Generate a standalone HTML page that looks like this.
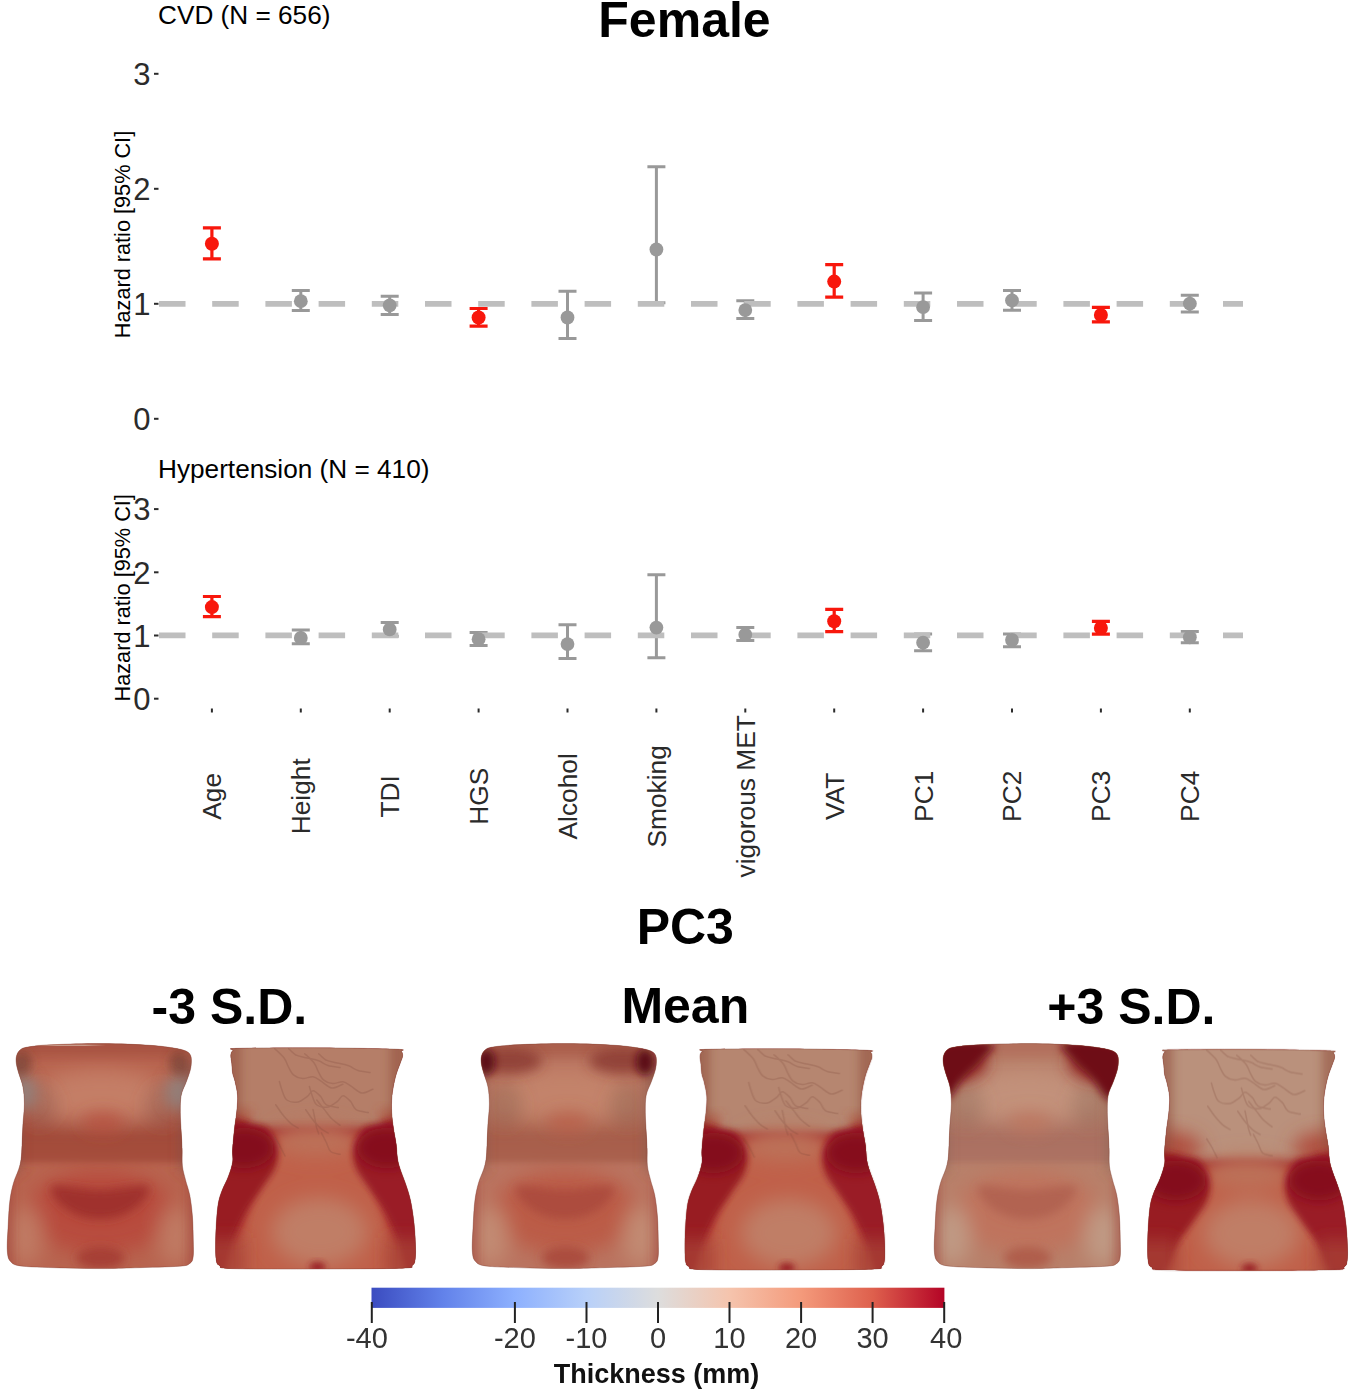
<!DOCTYPE html>
<html><head><meta charset="utf-8"><style>
html,body{margin:0;padding:0;background:#fff;width:1350px;height:1391px;overflow:hidden}
svg{display:block}
text{font-family:"Liberation Sans",sans-serif}
</style></head><body>
<svg width="1350" height="1391" viewBox="0 0 1350 1391">
<rect width="1350" height="1391" fill="#fff"/>
<path d="M291.8 290.6H309.8M300.8 290.6V310.6M291.8 310.6H309.8" stroke="#999999" stroke-width="3" fill="none"/>
<path d="M380.7 296.3H398.7M389.7 296.3V314.5M380.7 314.5H398.7" stroke="#999999" stroke-width="3" fill="none"/>
<path d="M558.5 291.3H576.5M567.5 291.3V338.4M558.5 338.4H576.5" stroke="#999999" stroke-width="3" fill="none"/>
<path d="M647.4 166.8H665.4M656.4 166.8V302.8M647.4 302.8H665.4" stroke="#999999" stroke-width="3" fill="none"/>
<path d="M736.3 300.7H754.3M745.3 300.7V318.4M736.3 318.4H754.3" stroke="#999999" stroke-width="3" fill="none"/>
<path d="M914.1 293.0H932.1M923.1 293.0V320.6M914.1 320.6H932.1" stroke="#999999" stroke-width="3" fill="none"/>
<path d="M1003.0 290.5H1021.0M1012.0 290.5V310.2M1003.0 310.2H1021.0" stroke="#999999" stroke-width="3" fill="none"/>
<path d="M1180.8 295.3H1198.8M1189.8 295.3V311.9M1180.8 311.9H1198.8" stroke="#999999" stroke-width="3" fill="none"/>
<line x1="159" y1="303.9" x2="1243" y2="303.9" stroke="#bebebe" stroke-width="5.7" stroke-dasharray="26.5 26.7"/>
<circle cx="300.8" cy="301.2" r="6.9" fill="#999999"/>
<circle cx="389.7" cy="305.3" r="6.9" fill="#999999"/>
<circle cx="567.5" cy="317.5" r="6.9" fill="#999999"/>
<circle cx="656.4" cy="249.5" r="6.9" fill="#999999"/>
<circle cx="745.3" cy="310.1" r="6.9" fill="#999999"/>
<circle cx="923.1" cy="307.2" r="6.9" fill="#999999"/>
<circle cx="1012.0" cy="300.4" r="6.9" fill="#999999"/>
<circle cx="1189.8" cy="303.6" r="6.9" fill="#999999"/>
<path d="M202.9 227.9H220.9M211.9 227.9V258.8M202.9 258.8H220.9" stroke="#f8170c" stroke-width="3.2" fill="none"/>
<circle cx="211.9" cy="243.7" r="7" fill="#f8170c"/>
<path d="M469.6 308.5H487.6M478.6 308.5V326.1M469.6 326.1H487.6" stroke="#f8170c" stroke-width="3.2" fill="none"/>
<circle cx="478.6" cy="317.5" r="7" fill="#f8170c"/>
<path d="M825.2 264.6H843.2M834.2 264.6V297.1M825.2 297.1H843.2" stroke="#f8170c" stroke-width="3.2" fill="none"/>
<circle cx="834.2" cy="281.6" r="7" fill="#f8170c"/>
<path d="M1091.9 307.3H1109.9M1100.9 307.3V321.8M1091.9 321.8H1109.9" stroke="#f8170c" stroke-width="3.2" fill="none"/>
<circle cx="1100.9" cy="315.0" r="7" fill="#f8170c"/>
<line x1="154" y1="73.8" x2="158.5" y2="73.8" stroke="#2b2b2b" stroke-width="2"/>
<text x="150.5" y="85.0" font-size="31" fill="#2b2b2b" text-anchor="end">3</text>
<line x1="154" y1="188.8" x2="158.5" y2="188.8" stroke="#2b2b2b" stroke-width="2"/>
<text x="150.5" y="200.0" font-size="31" fill="#2b2b2b" text-anchor="end">2</text>
<line x1="154" y1="303.8" x2="158.5" y2="303.8" stroke="#2b2b2b" stroke-width="2"/>
<text x="150.5" y="315.0" font-size="31" fill="#2b2b2b" text-anchor="end">1</text>
<line x1="154" y1="418.8" x2="158.5" y2="418.8" stroke="#2b2b2b" stroke-width="2"/>
<text x="150.5" y="430.0" font-size="31" fill="#2b2b2b" text-anchor="end">0</text>
<text x="158" y="24.4" font-size="26.2" fill="#000">CVD (N = 656)</text>
<text transform="translate(130.3 234.5) rotate(-90)" x="0" y="0" font-size="21.7" fill="#000" text-anchor="middle">Hazard ratio [95% CI]</text>
<path d="M291.8 630.0H309.8M300.8 630.0V643.8M291.8 643.8H309.8" stroke="#999999" stroke-width="3" fill="none"/>
<path d="M380.7 622.5H398.7M389.7 622.5V636.3M380.7 636.3H398.7" stroke="#999999" stroke-width="3" fill="none"/>
<path d="M469.6 632.4H487.6M478.6 632.4V645.4M469.6 645.4H487.6" stroke="#999999" stroke-width="3" fill="none"/>
<path d="M558.5 624.7H576.5M567.5 624.7V658.4M558.5 658.4H576.5" stroke="#999999" stroke-width="3" fill="none"/>
<path d="M647.4 574.7H665.4M656.4 574.7V657.7M647.4 657.7H665.4" stroke="#999999" stroke-width="3" fill="none"/>
<path d="M736.3 627.6H754.3M745.3 627.6V640.6M736.3 640.6H754.3" stroke="#999999" stroke-width="3" fill="none"/>
<path d="M914.1 634.1H932.1M923.1 634.1V650.7M914.1 650.7H932.1" stroke="#999999" stroke-width="3" fill="none"/>
<path d="M1003.0 634.1H1021.0M1012.0 634.1V646.7M1003.0 646.7H1021.0" stroke="#999999" stroke-width="3" fill="none"/>
<path d="M1180.8 631.5H1198.8M1189.8 631.5V642.7M1180.8 642.7H1198.8" stroke="#999999" stroke-width="3" fill="none"/>
<line x1="159" y1="635.3" x2="1243" y2="635.3" stroke="#bebebe" stroke-width="5.7" stroke-dasharray="26.5 26.7"/>
<circle cx="300.8" cy="637.9" r="6.9" fill="#999999"/>
<circle cx="389.7" cy="629.4" r="6.9" fill="#999999"/>
<circle cx="478.6" cy="639.2" r="6.9" fill="#999999"/>
<circle cx="567.5" cy="644.1" r="6.9" fill="#999999"/>
<circle cx="656.4" cy="627.6" r="6.9" fill="#999999"/>
<circle cx="745.3" cy="634.7" r="6.9" fill="#999999"/>
<circle cx="923.1" cy="642.7" r="6.9" fill="#999999"/>
<circle cx="1012.0" cy="640.0" r="6.9" fill="#999999"/>
<circle cx="1189.8" cy="637.3" r="6.9" fill="#999999"/>
<path d="M202.9 596.5H220.9M211.9 596.5V616.7M202.9 616.7H220.9" stroke="#f8170c" stroke-width="3.2" fill="none"/>
<circle cx="211.9" cy="607.1" r="7" fill="#f8170c"/>
<path d="M825.2 609.3H843.2M834.2 609.3V631.6M825.2 631.6H843.2" stroke="#f8170c" stroke-width="3.2" fill="none"/>
<circle cx="834.2" cy="621.2" r="7" fill="#f8170c"/>
<path d="M1091.9 621.3H1109.9M1100.9 621.3V634.1M1091.9 634.1H1109.9" stroke="#f8170c" stroke-width="3.2" fill="none"/>
<circle cx="1100.9" cy="628.0" r="7" fill="#f8170c"/>
<line x1="154" y1="509.1" x2="158.5" y2="509.1" stroke="#2b2b2b" stroke-width="2"/>
<text x="150.5" y="520.3" font-size="31" fill="#2b2b2b" text-anchor="end">3</text>
<line x1="154" y1="572.3" x2="158.5" y2="572.3" stroke="#2b2b2b" stroke-width="2"/>
<text x="150.5" y="583.5" font-size="31" fill="#2b2b2b" text-anchor="end">2</text>
<line x1="154" y1="635.5" x2="158.5" y2="635.5" stroke="#2b2b2b" stroke-width="2"/>
<text x="150.5" y="646.7" font-size="31" fill="#2b2b2b" text-anchor="end">1</text>
<line x1="154" y1="698.7" x2="158.5" y2="698.7" stroke="#2b2b2b" stroke-width="2"/>
<text x="150.5" y="709.9" font-size="31" fill="#2b2b2b" text-anchor="end">0</text>
<text x="158" y="477.9" font-size="26.2" fill="#000">Hypertension (N = 410)</text>
<text transform="translate(130.3 597.8) rotate(-90)" x="0" y="0" font-size="21.7" fill="#000" text-anchor="middle">Hazard ratio [95% CI]</text>
<line x1="211.9" y1="708.5" x2="211.9" y2="712.5" stroke="#2b2b2b" stroke-width="2"/>
<text transform="translate(221.3 796.3) rotate(-90)" font-size="26.3" fill="#2a2a2a" text-anchor="middle">Age</text>
<line x1="300.8" y1="708.5" x2="300.8" y2="712.5" stroke="#2b2b2b" stroke-width="2"/>
<text transform="translate(310.2 796.3) rotate(-90)" font-size="26.3" fill="#2a2a2a" text-anchor="middle">Height</text>
<line x1="389.7" y1="708.5" x2="389.7" y2="712.5" stroke="#2b2b2b" stroke-width="2"/>
<text transform="translate(399.1 796.3) rotate(-90)" font-size="26.3" fill="#2a2a2a" text-anchor="middle">TDI</text>
<line x1="478.6" y1="708.5" x2="478.6" y2="712.5" stroke="#2b2b2b" stroke-width="2"/>
<text transform="translate(488.0 796.3) rotate(-90)" font-size="26.3" fill="#2a2a2a" text-anchor="middle">HGS</text>
<line x1="567.5" y1="708.5" x2="567.5" y2="712.5" stroke="#2b2b2b" stroke-width="2"/>
<text transform="translate(576.9 796.3) rotate(-90)" font-size="26.3" fill="#2a2a2a" text-anchor="middle">Alcohol</text>
<line x1="656.4" y1="708.5" x2="656.4" y2="712.5" stroke="#2b2b2b" stroke-width="2"/>
<text transform="translate(665.8 796.3) rotate(-90)" font-size="26.3" fill="#2a2a2a" text-anchor="middle">Smoking</text>
<line x1="745.3" y1="708.5" x2="745.3" y2="712.5" stroke="#2b2b2b" stroke-width="2"/>
<text transform="translate(754.7 796.3) rotate(-90)" font-size="26.3" fill="#2a2a2a" text-anchor="middle">vigorous MET</text>
<line x1="834.2" y1="708.5" x2="834.2" y2="712.5" stroke="#2b2b2b" stroke-width="2"/>
<text transform="translate(843.6 796.3) rotate(-90)" font-size="26.3" fill="#2a2a2a" text-anchor="middle">VAT</text>
<line x1="923.1" y1="708.5" x2="923.1" y2="712.5" stroke="#2b2b2b" stroke-width="2"/>
<text transform="translate(932.5 796.3) rotate(-90)" font-size="26.3" fill="#2a2a2a" text-anchor="middle">PC1</text>
<line x1="1012.0" y1="708.5" x2="1012.0" y2="712.5" stroke="#2b2b2b" stroke-width="2"/>
<text transform="translate(1021.4 796.3) rotate(-90)" font-size="26.3" fill="#2a2a2a" text-anchor="middle">PC2</text>
<line x1="1100.9" y1="708.5" x2="1100.9" y2="712.5" stroke="#2b2b2b" stroke-width="2"/>
<text transform="translate(1110.3 796.3) rotate(-90)" font-size="26.3" fill="#2a2a2a" text-anchor="middle">PC3</text>
<line x1="1189.8" y1="708.5" x2="1189.8" y2="712.5" stroke="#2b2b2b" stroke-width="2"/>
<text transform="translate(1199.2 796.3) rotate(-90)" font-size="26.3" fill="#2a2a2a" text-anchor="middle">PC4</text>
<text x="684.5" y="36.6" font-size="50" font-weight="bold" text-anchor="middle" fill="#000">Female</text>
<text x="685.3" y="944" font-size="50" font-weight="bold" text-anchor="middle" fill="#000">PC3</text>
<text x="229.4" y="1024.3" font-size="50" font-weight="bold" text-anchor="middle" fill="#000">-3 S.D.</text>
<text x="685.3" y="1022.7" font-size="50" font-weight="bold" text-anchor="middle" fill="#000">Mean</text>
<text x="1131.4" y="1024.3" font-size="50" font-weight="bold" text-anchor="middle" fill="#000">+3 S.D.</text>
<defs>
<filter id="bl" x="-20%" y="-20%" width="140%" height="140%"><feGaussianBlur stdDeviation="0.7"/></filter>
<filter id="b3" x="-50%" y="-50%" width="200%" height="200%"><feGaussianBlur stdDeviation="3"/></filter>
<filter id="b4" x="-50%" y="-50%" width="200%" height="200%"><feGaussianBlur stdDeviation="4"/></filter>
<filter id="b5" x="-50%" y="-50%" width="200%" height="200%"><feGaussianBlur stdDeviation="5"/></filter>
<filter id="b6" x="-50%" y="-50%" width="200%" height="200%"><feGaussianBlur stdDeviation="6"/></filter>
<filter id="b7" x="-50%" y="-50%" width="200%" height="200%"><feGaussianBlur stdDeviation="7"/></filter>
<filter id="b8" x="-50%" y="-50%" width="200%" height="200%"><feGaussianBlur stdDeviation="8"/></filter>
<filter id="b9" x="-50%" y="-50%" width="200%" height="200%"><feGaussianBlur stdDeviation="9"/></filter>
<filter id="b10" x="-50%" y="-50%" width="200%" height="200%"><feGaussianBlur stdDeviation="10"/></filter>
<clipPath id="c0"><path d="M481.3 1057.0C481.8 1054.8 482.6 1052.2 484.5 1050.5C486.4 1048.8 487.0 1048.0 493.0 1047.0C499.0 1046.0 508.1 1045.2 520.6 1044.6C533.1 1044.0 552.3 1043.5 568.0 1043.6C583.7 1043.7 603.0 1044.5 615.0 1045.3C627.0 1046.1 633.9 1047.3 640.0 1048.3C646.1 1049.3 648.8 1050.1 651.4 1051.3C654.0 1052.5 654.8 1053.7 655.6 1055.5C656.4 1057.3 656.5 1059.6 656.4 1062.0C656.3 1064.4 656.1 1066.7 655.3 1070.0C654.5 1073.3 652.9 1077.4 651.4 1081.6C649.9 1085.8 647.2 1090.1 646.2 1095.3C645.2 1100.5 645.3 1106.5 645.3 1112.6C645.3 1118.6 645.9 1125.6 646.2 1131.6C646.5 1137.6 646.9 1143.1 647.1 1148.8C647.3 1154.5 646.8 1160.8 647.4 1166.0C648.0 1171.2 649.3 1174.9 650.5 1179.8C651.7 1184.7 653.6 1189.3 654.8 1195.3C655.9 1201.3 656.8 1208.2 657.4 1216.0C658.0 1223.8 658.2 1235.0 658.3 1241.9C658.4 1248.8 658.7 1253.6 658.1 1257.2C657.5 1260.8 657.1 1261.9 654.8 1263.4C652.5 1264.9 653.6 1265.5 644.5 1266.2C635.4 1266.9 612.8 1267.4 600.0 1267.8C587.2 1268.2 579.7 1268.6 568.0 1268.6C556.3 1268.6 543.4 1268.4 530.0 1268.0C516.6 1267.6 496.9 1267.2 487.9 1266.2C478.9 1265.2 478.4 1264.3 475.8 1261.7C473.2 1259.1 472.7 1256.7 472.3 1250.5C471.9 1244.3 472.8 1233.0 473.2 1224.7C473.6 1216.4 474.0 1207.4 474.9 1200.5C475.8 1193.6 476.9 1188.5 478.4 1183.3C479.8 1178.1 482.3 1173.5 483.6 1169.5C484.9 1165.5 485.5 1163.1 486.1 1159.1C486.7 1155.1 486.7 1151.0 487.0 1145.3C487.3 1139.6 487.5 1131.6 487.9 1124.7C488.3 1117.8 489.4 1110.3 489.4 1104.0C489.4 1097.7 488.9 1091.9 487.9 1086.7C486.9 1081.5 484.7 1076.7 483.6 1072.9C482.5 1069.1 481.8 1066.7 481.4 1064.0C481.0 1061.3 480.8 1059.2 481.3 1057.0Z"/></clipPath>
<clipPath id="c1"><path d="M230.8 1055.0C231.0 1052.8 231.8 1051.4 233.0 1050.3C234.2 1049.2 223.5 1048.7 238.0 1048.3C252.5 1047.9 293.7 1047.6 320.0 1047.8C346.3 1048.0 382.4 1048.6 396.0 1049.2C409.6 1049.8 400.2 1050.2 401.3 1051.3C402.4 1052.4 402.7 1054.1 402.6 1056.0C402.5 1057.9 401.7 1059.0 400.5 1062.5C399.3 1066.0 396.8 1071.7 395.4 1077.2C394.0 1082.8 392.6 1089.9 392.0 1095.8C391.4 1101.7 391.4 1107.1 391.7 1112.7C392.0 1118.3 392.9 1124.2 393.7 1129.6C394.5 1134.9 395.7 1140.0 396.3 1144.8C396.9 1149.6 396.9 1154.4 397.5 1158.3C398.1 1162.2 398.6 1164.2 400.0 1168.4C401.4 1172.6 403.8 1178.3 405.6 1183.7C407.4 1189.1 409.2 1194.1 410.6 1200.6C412.0 1207.1 413.2 1215.5 414.0 1222.5C414.8 1229.5 415.2 1236.7 415.4 1242.8C415.6 1248.9 415.7 1255.2 415.2 1259.0C414.7 1262.8 414.5 1263.9 412.3 1265.4C410.1 1266.9 417.6 1267.6 402.2 1268.2C386.8 1268.8 348.4 1268.9 320.0 1269.0C291.6 1269.1 248.3 1269.2 231.6 1268.6C214.9 1268.0 222.1 1267.0 219.6 1265.6C217.1 1264.2 217.0 1264.1 216.3 1260.3C215.6 1256.5 215.6 1249.2 215.6 1243.0C215.6 1236.8 215.9 1229.7 216.3 1223.0C216.8 1216.3 217.3 1208.6 218.3 1203.1C219.3 1197.6 220.6 1194.2 222.3 1189.8C224.0 1185.4 226.6 1181.1 228.3 1176.5C230.0 1171.9 231.9 1166.4 232.6 1162.0C233.3 1157.6 232.2 1155.3 232.5 1150.0C232.8 1144.7 233.6 1136.7 234.3 1130.0C235.0 1123.3 236.4 1115.8 236.9 1110.0C237.4 1104.2 237.8 1099.8 237.5 1095.0C237.2 1090.2 235.8 1085.2 235.0 1081.5C234.2 1077.8 233.0 1075.6 232.5 1072.6C232.0 1069.6 232.1 1066.6 231.8 1063.7C231.5 1060.8 230.6 1057.2 230.8 1055.0Z"/></clipPath>
<clipPath id="c2"><path d="M481.3 1057.0C481.8 1054.8 482.6 1052.2 484.5 1050.5C486.4 1048.8 487.0 1048.0 493.0 1047.0C499.0 1046.0 508.1 1045.2 520.6 1044.6C533.1 1044.0 552.3 1043.5 568.0 1043.6C583.7 1043.7 603.0 1044.5 615.0 1045.3C627.0 1046.1 633.9 1047.3 640.0 1048.3C646.1 1049.3 648.8 1050.1 651.4 1051.3C654.0 1052.5 654.8 1053.7 655.6 1055.5C656.4 1057.3 656.5 1059.6 656.4 1062.0C656.3 1064.4 656.1 1066.7 655.3 1070.0C654.5 1073.3 652.9 1077.4 651.4 1081.6C649.9 1085.8 647.2 1090.1 646.2 1095.3C645.2 1100.5 645.3 1106.5 645.3 1112.6C645.3 1118.6 645.9 1125.6 646.2 1131.6C646.5 1137.6 646.9 1143.1 647.1 1148.8C647.3 1154.5 646.8 1160.8 647.4 1166.0C648.0 1171.2 649.3 1174.9 650.5 1179.8C651.7 1184.7 653.6 1189.3 654.8 1195.3C655.9 1201.3 656.8 1208.2 657.4 1216.0C658.0 1223.8 658.2 1235.0 658.3 1241.9C658.4 1248.8 658.7 1253.6 658.1 1257.2C657.5 1260.8 657.1 1261.9 654.8 1263.4C652.5 1264.9 653.6 1265.5 644.5 1266.2C635.4 1266.9 612.8 1267.4 600.0 1267.8C587.2 1268.2 579.7 1268.6 568.0 1268.6C556.3 1268.6 543.4 1268.4 530.0 1268.0C516.6 1267.6 496.9 1267.2 487.9 1266.2C478.9 1265.2 478.4 1264.3 475.8 1261.7C473.2 1259.1 472.7 1256.7 472.3 1250.5C471.9 1244.3 472.8 1233.0 473.2 1224.7C473.6 1216.4 474.0 1207.4 474.9 1200.5C475.8 1193.6 476.9 1188.5 478.4 1183.3C479.8 1178.1 482.3 1173.5 483.6 1169.5C484.9 1165.5 485.5 1163.1 486.1 1159.1C486.7 1155.1 486.7 1151.0 487.0 1145.3C487.3 1139.6 487.5 1131.6 487.9 1124.7C488.3 1117.8 489.4 1110.3 489.4 1104.0C489.4 1097.7 488.9 1091.9 487.9 1086.7C486.9 1081.5 484.7 1076.7 483.6 1072.9C482.5 1069.1 481.8 1066.7 481.4 1064.0C481.0 1061.3 480.8 1059.2 481.3 1057.0Z"/></clipPath>
<clipPath id="c3"><path d="M230.8 1055.0C231.0 1052.8 231.8 1051.4 233.0 1050.3C234.2 1049.2 223.5 1048.7 238.0 1048.3C252.5 1047.9 293.7 1047.6 320.0 1047.8C346.3 1048.0 382.4 1048.6 396.0 1049.2C409.6 1049.8 400.2 1050.2 401.3 1051.3C402.4 1052.4 402.7 1054.1 402.6 1056.0C402.5 1057.9 401.7 1059.0 400.5 1062.5C399.3 1066.0 396.8 1071.7 395.4 1077.2C394.0 1082.8 392.6 1089.9 392.0 1095.8C391.4 1101.7 391.4 1107.1 391.7 1112.7C392.0 1118.3 392.9 1124.2 393.7 1129.6C394.5 1134.9 395.7 1140.0 396.3 1144.8C396.9 1149.6 396.9 1154.4 397.5 1158.3C398.1 1162.2 398.6 1164.2 400.0 1168.4C401.4 1172.6 403.8 1178.3 405.6 1183.7C407.4 1189.1 409.2 1194.1 410.6 1200.6C412.0 1207.1 413.2 1215.5 414.0 1222.5C414.8 1229.5 415.2 1236.7 415.4 1242.8C415.6 1248.9 415.7 1255.2 415.2 1259.0C414.7 1262.8 414.5 1263.9 412.3 1265.4C410.1 1266.9 417.6 1267.6 402.2 1268.2C386.8 1268.8 348.4 1268.9 320.0 1269.0C291.6 1269.1 248.3 1269.2 231.6 1268.6C214.9 1268.0 222.1 1267.0 219.6 1265.6C217.1 1264.2 217.0 1264.1 216.3 1260.3C215.6 1256.5 215.6 1249.2 215.6 1243.0C215.6 1236.8 215.9 1229.7 216.3 1223.0C216.8 1216.3 217.3 1208.6 218.3 1203.1C219.3 1197.6 220.6 1194.2 222.3 1189.8C224.0 1185.4 226.6 1181.1 228.3 1176.5C230.0 1171.9 231.9 1166.4 232.6 1162.0C233.3 1157.6 232.2 1155.3 232.5 1150.0C232.8 1144.7 233.6 1136.7 234.3 1130.0C235.0 1123.3 236.4 1115.8 236.9 1110.0C237.4 1104.2 237.8 1099.8 237.5 1095.0C237.2 1090.2 235.8 1085.2 235.0 1081.5C234.2 1077.8 233.0 1075.6 232.5 1072.6C232.0 1069.6 232.1 1066.6 231.8 1063.7C231.5 1060.8 230.6 1057.2 230.8 1055.0Z"/></clipPath>
<clipPath id="c4"><path d="M481.3 1057.0C481.8 1054.8 482.6 1052.2 484.5 1050.5C486.4 1048.8 487.0 1048.0 493.0 1047.0C499.0 1046.0 508.1 1045.2 520.6 1044.6C533.1 1044.0 552.3 1043.5 568.0 1043.6C583.7 1043.7 603.0 1044.5 615.0 1045.3C627.0 1046.1 633.9 1047.3 640.0 1048.3C646.1 1049.3 648.8 1050.1 651.4 1051.3C654.0 1052.5 654.8 1053.7 655.6 1055.5C656.4 1057.3 656.5 1059.6 656.4 1062.0C656.3 1064.4 656.1 1066.7 655.3 1070.0C654.5 1073.3 652.9 1077.4 651.4 1081.6C649.9 1085.8 647.2 1090.1 646.2 1095.3C645.2 1100.5 645.3 1106.5 645.3 1112.6C645.3 1118.6 645.9 1125.6 646.2 1131.6C646.5 1137.6 646.9 1143.1 647.1 1148.8C647.3 1154.5 646.8 1160.8 647.4 1166.0C648.0 1171.2 649.3 1174.9 650.5 1179.8C651.7 1184.7 653.6 1189.3 654.8 1195.3C655.9 1201.3 656.8 1208.2 657.4 1216.0C658.0 1223.8 658.2 1235.0 658.3 1241.9C658.4 1248.8 658.7 1253.6 658.1 1257.2C657.5 1260.8 657.1 1261.9 654.8 1263.4C652.5 1264.9 653.6 1265.5 644.5 1266.2C635.4 1266.9 612.8 1267.4 600.0 1267.8C587.2 1268.2 579.7 1268.6 568.0 1268.6C556.3 1268.6 543.4 1268.4 530.0 1268.0C516.6 1267.6 496.9 1267.2 487.9 1266.2C478.9 1265.2 478.4 1264.3 475.8 1261.7C473.2 1259.1 472.7 1256.7 472.3 1250.5C471.9 1244.3 472.8 1233.0 473.2 1224.7C473.6 1216.4 474.0 1207.4 474.9 1200.5C475.8 1193.6 476.9 1188.5 478.4 1183.3C479.8 1178.1 482.3 1173.5 483.6 1169.5C484.9 1165.5 485.5 1163.1 486.1 1159.1C486.7 1155.1 486.7 1151.0 487.0 1145.3C487.3 1139.6 487.5 1131.6 487.9 1124.7C488.3 1117.8 489.4 1110.3 489.4 1104.0C489.4 1097.7 488.9 1091.9 487.9 1086.7C486.9 1081.5 484.7 1076.7 483.6 1072.9C482.5 1069.1 481.8 1066.7 481.4 1064.0C481.0 1061.3 480.8 1059.2 481.3 1057.0Z"/></clipPath>
<clipPath id="c5"><path d="M230.8 1055.0C231.0 1052.8 231.8 1051.4 233.0 1050.3C234.2 1049.2 223.5 1048.7 238.0 1048.3C252.5 1047.9 293.7 1047.6 320.0 1047.8C346.3 1048.0 382.4 1048.6 396.0 1049.2C409.6 1049.8 400.2 1050.2 401.3 1051.3C402.4 1052.4 402.7 1054.1 402.6 1056.0C402.5 1057.9 401.7 1059.0 400.5 1062.5C399.3 1066.0 396.8 1071.7 395.4 1077.2C394.0 1082.8 392.6 1089.9 392.0 1095.8C391.4 1101.7 391.4 1107.1 391.7 1112.7C392.0 1118.3 392.9 1124.2 393.7 1129.6C394.5 1134.9 395.7 1140.0 396.3 1144.8C396.9 1149.6 396.9 1154.4 397.5 1158.3C398.1 1162.2 398.6 1164.2 400.0 1168.4C401.4 1172.6 403.8 1178.3 405.6 1183.7C407.4 1189.1 409.2 1194.1 410.6 1200.6C412.0 1207.1 413.2 1215.5 414.0 1222.5C414.8 1229.5 415.2 1236.7 415.4 1242.8C415.6 1248.9 415.7 1255.2 415.2 1259.0C414.7 1262.8 414.5 1263.9 412.3 1265.4C410.1 1266.9 417.6 1267.6 402.2 1268.2C386.8 1268.8 348.4 1268.9 320.0 1269.0C291.6 1269.1 248.3 1269.2 231.6 1268.6C214.9 1268.0 222.1 1267.0 219.6 1265.6C217.1 1264.2 217.0 1264.1 216.3 1260.3C215.6 1256.5 215.6 1249.2 215.6 1243.0C215.6 1236.8 215.9 1229.7 216.3 1223.0C216.8 1216.3 217.3 1208.6 218.3 1203.1C219.3 1197.6 220.6 1194.2 222.3 1189.8C224.0 1185.4 226.6 1181.1 228.3 1176.5C230.0 1171.9 231.9 1166.4 232.6 1162.0C233.3 1157.6 232.2 1155.3 232.5 1150.0C232.8 1144.7 233.6 1136.7 234.3 1130.0C235.0 1123.3 236.4 1115.8 236.9 1110.0C237.4 1104.2 237.8 1099.8 237.5 1095.0C237.2 1090.2 235.8 1085.2 235.0 1081.5C234.2 1077.8 233.0 1075.6 232.5 1072.6C232.0 1069.6 232.1 1066.6 231.8 1063.7C231.5 1060.8 230.6 1057.2 230.8 1055.0Z"/></clipPath>
</defs>
<g transform="translate(-465 0)"><g clip-path="url(#c0)"><rect x="460.0" y="1030.0" width="210.0" height="250.0" fill="#b8644f" opacity="1"/><g filter="url(#b10)"><ellipse cx="565.5" cy="1097.0" rx="72.0" ry="28.0" fill="#c47e66" opacity="1"/><rect x="460.0" y="1122.0" width="210.0" height="28.0" fill="#a24b3b" opacity="1"/><ellipse cx="565.5" cy="1212.0" rx="72.0" ry="42.0" fill="#b84b3c" opacity="1"/><ellipse cx="490.0" cy="1236.0" rx="18.0" ry="30.0" fill="#c07a64" opacity="1"/><ellipse cx="641.0" cy="1236.0" rx="18.0" ry="30.0" fill="#c07a64" opacity="1"/></g><g filter="url(#b3)"><rect x="460.0" y="1135.0" width="210.0" height="27.0" fill="#a24b3b" opacity="0.85"/></g><g filter="url(#b6)"><rect x="460.0" y="1030.0" width="210.0" height="27.0" fill="#a5503f" opacity="0.8"/></g><g filter="url(#b5)"><path d="M518.0 1186.0C524.7 1183.7 549.3 1190.0 565.0 1190.0C580.7 1190.0 605.3 1183.7 612.0 1186.0C618.7 1188.3 609.5 1199.0 605.0 1204.0C600.5 1209.0 591.7 1213.5 585.0 1216.0C578.3 1218.5 571.7 1219.0 565.0 1219.0C558.3 1219.0 551.7 1218.5 545.0 1216.0C538.3 1213.5 529.5 1209.0 525.0 1204.0C520.5 1199.0 511.3 1188.3 518.0 1186.0Z" fill="#9e302a" opacity="0.95"/><ellipse cx="565.5" cy="1258.0" rx="24.0" ry="11.0" fill="#a33a31" opacity="0.8"/></g><g filter="url(#b8)"><ellipse cx="568.0" cy="1122.0" rx="22.0" ry="10.0" fill="#b84b3c" opacity="0.7"/><ellipse cx="505.0" cy="1105.0" rx="18.0" ry="22.0" fill="#7e5048" opacity="0.3"/><ellipse cx="627.0" cy="1105.0" rx="18.0" ry="22.0" fill="#7e5048" opacity="0.3"/></g><g filter="url(#b6)"><rect x="455.0" y="1062.0" width="31.0" height="110.0" fill="#7e5048" opacity="0.55"/><rect x="645.0" y="1062.0" width="35.0" height="110.0" fill="#7e5048" opacity="0.55"/></g><g filter="url(#b4)"><rect x="455.0" y="1176.0" width="23.0" height="96.0" fill="#9a3a30" opacity="0.45"/><rect x="653.0" y="1176.0" width="27.0" height="96.0" fill="#9a3a30" opacity="0.45"/></g><g filter="url(#b7)"><ellipse cx="489.0" cy="1092.0" rx="13.0" ry="18.0" fill="#8d8682" opacity="0.8"/><ellipse cx="643.0" cy="1092.0" rx="13.0" ry="18.0" fill="#8d8682" opacity="0.8"/></g><g filter="url(#b5)"><ellipse cx="487.0" cy="1063.0" rx="10.0" ry="12.0" fill="#6a3a30" opacity="0.55"/><ellipse cx="644.0" cy="1063.0" rx="10.0" ry="12.0" fill="#6a3a30" opacity="0.55"/></g></g><path d="M481.3 1057.0C481.8 1054.8 482.6 1052.2 484.5 1050.5C486.4 1048.8 487.0 1048.0 493.0 1047.0C499.0 1046.0 508.1 1045.2 520.6 1044.6C533.1 1044.0 552.3 1043.5 568.0 1043.6C583.7 1043.7 603.0 1044.5 615.0 1045.3C627.0 1046.1 633.9 1047.3 640.0 1048.3C646.1 1049.3 648.8 1050.1 651.4 1051.3C654.0 1052.5 654.8 1053.7 655.6 1055.5C656.4 1057.3 656.5 1059.6 656.4 1062.0C656.3 1064.4 656.1 1066.7 655.3 1070.0C654.5 1073.3 652.9 1077.4 651.4 1081.6C649.9 1085.8 647.2 1090.1 646.2 1095.3C645.2 1100.5 645.3 1106.5 645.3 1112.6C645.3 1118.6 645.9 1125.6 646.2 1131.6C646.5 1137.6 646.9 1143.1 647.1 1148.8C647.3 1154.5 646.8 1160.8 647.4 1166.0C648.0 1171.2 649.3 1174.9 650.5 1179.8C651.7 1184.7 653.6 1189.3 654.8 1195.3C655.9 1201.3 656.8 1208.2 657.4 1216.0C658.0 1223.8 658.2 1235.0 658.3 1241.9C658.4 1248.8 658.7 1253.6 658.1 1257.2C657.5 1260.8 657.1 1261.9 654.8 1263.4C652.5 1264.9 653.6 1265.5 644.5 1266.2C635.4 1266.9 612.8 1267.4 600.0 1267.8C587.2 1268.2 579.7 1268.6 568.0 1268.6C556.3 1268.6 543.4 1268.4 530.0 1268.0C516.6 1267.6 496.9 1267.2 487.9 1266.2C478.9 1265.2 478.4 1264.3 475.8 1261.7C473.2 1259.1 472.7 1256.7 472.3 1250.5C471.9 1244.3 472.8 1233.0 473.2 1224.7C473.6 1216.4 474.0 1207.4 474.9 1200.5C475.8 1193.6 476.9 1188.5 478.4 1183.3C479.8 1178.1 482.3 1173.5 483.6 1169.5C484.9 1165.5 485.5 1163.1 486.1 1159.1C486.7 1155.1 486.7 1151.0 487.0 1145.3C487.3 1139.6 487.5 1131.6 487.9 1124.7C488.3 1117.8 489.4 1110.3 489.4 1104.0C489.4 1097.7 488.9 1091.9 487.9 1086.7C486.9 1081.5 484.7 1076.7 483.6 1072.9C482.5 1069.1 481.8 1066.7 481.4 1064.0C481.0 1061.3 480.8 1059.2 481.3 1057.0Z" fill="none" stroke="#7a3a2e" stroke-width="0.7" opacity="0.5"/></g>
<g transform="translate(0 0)"><g clip-path="url(#c1)"><rect x="200.0" y="1030.0" width="230.0" height="250.0" fill="#a02a2c" opacity="1"/><g filter="url(#b5)"><rect x="200.0" y="1030.0" width="230.0" height="98.0" fill="#b57e68" opacity="1"/></g><g filter="url(#b6)"><rect x="200.0" y="1110.0" width="50.0" height="18.0" fill="#ae4c3c" opacity="0.8"/><rect x="381.0" y="1110.0" width="49.0" height="18.0" fill="#ae4c3c" opacity="0.8"/></g><g filter="url(#b7)"><path d="M266.0 1136.0C283.0 1132.7 348.0 1132.7 365.0 1136.0C382.0 1139.3 366.0 1148.5 368.0 1156.0C370.0 1163.5 372.5 1167.8 377.0 1181.0C381.5 1194.2 389.8 1219.3 395.0 1235.0C400.2 1250.7 436.7 1268.3 408.0 1275.0C379.3 1281.7 251.7 1281.7 223.0 1275.0C194.3 1268.3 230.8 1250.7 236.0 1235.0C241.2 1219.3 249.5 1194.2 254.0 1181.0C258.5 1167.8 261.0 1163.5 263.0 1156.0C265.0 1148.5 249.0 1139.3 266.0 1136.0Z" fill="#b8473a" opacity="1"/></g><g filter="url(#b4)"><path d="M270.0 1140.0C285.7 1137.0 345.3 1137.0 361.0 1140.0C376.7 1143.0 362.2 1150.8 364.0 1158.0C365.8 1165.2 368.0 1170.2 372.0 1183.0C376.0 1195.8 383.3 1219.7 388.0 1235.0C392.7 1250.3 426.2 1268.3 400.0 1275.0C373.8 1281.7 257.2 1281.7 231.0 1275.0C204.8 1268.3 238.3 1250.3 243.0 1235.0C247.7 1219.7 255.0 1195.8 259.0 1183.0C263.0 1170.2 265.2 1165.2 267.0 1158.0C268.8 1150.8 254.3 1143.0 270.0 1140.0Z" fill="#c0604a" opacity="1"/></g><g filter="url(#b10)"><ellipse cx="319.5" cy="1232.0" rx="48.0" ry="34.0" fill="#c07e66" opacity="1"/><ellipse cx="315.5" cy="1140.0" rx="44.0" ry="16.0" fill="#bb735b" opacity="0.9"/></g><g filter="url(#b3)"><path d="M205.0 1126.0C213.8 1101.2 247.2 1124.7 258.0 1126.0C268.8 1127.3 266.8 1130.0 270.0 1134.0C273.2 1138.0 276.2 1144.3 277.0 1150.0C277.8 1155.7 277.5 1161.7 275.0 1168.0C272.5 1174.3 266.8 1180.8 262.0 1188.0C257.2 1195.2 251.0 1202.2 246.0 1211.0C241.0 1219.8 236.0 1230.3 232.0 1241.0C228.0 1251.7 226.5 1269.3 222.0 1275.0C217.5 1280.7 207.8 1299.8 205.0 1275.0C202.2 1250.2 196.2 1150.8 205.0 1126.0Z" fill="#981a24" opacity="1"/><path d="M426.0 1126.0C417.2 1101.2 383.8 1124.7 373.0 1126.0C362.2 1127.3 364.2 1130.0 361.0 1134.0C357.8 1138.0 354.8 1144.3 354.0 1150.0C353.2 1155.7 353.5 1161.7 356.0 1168.0C358.5 1174.3 364.2 1180.8 369.0 1188.0C373.8 1195.2 380.0 1202.2 385.0 1211.0C390.0 1219.8 395.0 1230.3 399.0 1241.0C403.0 1251.7 404.5 1269.3 409.0 1275.0C413.5 1280.7 423.2 1299.8 426.0 1275.0C428.8 1250.2 434.8 1150.8 426.0 1126.0Z" fill="#9a1b25" opacity="1"/></g><g filter="url(#b6)"><ellipse cx="244.0" cy="1148.0" rx="30.0" ry="20.0" fill="#840e1d" opacity="1"/><ellipse cx="387.0" cy="1148.0" rx="30.0" ry="20.0" fill="#860f1e" opacity="1"/></g><g filter="url(#b8)"><rect x="200.0" y="1238.0" width="45.0" height="42.0" fill="#a83d35" opacity="0.8"/><rect x="386.0" y="1238.0" width="44.0" height="42.0" fill="#a83d35" opacity="0.8"/></g><g filter="url(#b4)"><rect x="200.0" y="1040.0" width="41.0" height="78.0" fill="#8f4a3a" opacity="0.5"/><rect x="390.0" y="1040.0" width="40.0" height="78.0" fill="#8f4a3a" opacity="0.5"/></g><g filter="url(#b3)"><ellipse cx="317.5" cy="1267.0" rx="8.0" ry="5.0" fill="#9a2426" opacity="1"/></g><g filter="url(#bl)" fill="none" stroke="#7e4a3c" stroke-width="1.5" opacity="0.24" stroke-linecap="round"><path d="M274.7 1048.7C276.3 1050.2 281.8 1054.9 284.1 1058.0C286.4 1061.1 287.1 1064.6 288.7 1067.4C290.2 1070.2 291.1 1072.9 293.4 1074.8C295.7 1076.7 299.4 1078.3 302.7 1078.6C306.0 1078.9 309.9 1076.2 313.0 1076.7C316.1 1077.2 318.3 1079.5 321.4 1081.4C324.5 1083.3 328.1 1087.5 331.7 1088.0C335.3 1088.5 341.0 1084.8 342.9 1084.2"/><path d="M288.7 1048.7C289.9 1049.8 293.1 1053.7 296.2 1055.2C299.3 1056.8 303.6 1057.1 307.4 1058.0C311.1 1058.9 315.3 1059.5 318.7 1060.8C322.1 1062.0 324.4 1064.4 328.0 1065.5C331.6 1066.6 338.1 1067.1 340.1 1067.4"/><path d="M279.4 1081.4C279.9 1083.0 280.9 1087.6 282.2 1090.7C283.4 1093.8 284.2 1098.1 286.9 1100.0C289.5 1101.9 294.7 1102.6 298.1 1102.0C301.5 1101.4 304.9 1098.2 307.4 1096.3C309.9 1094.4 310.8 1090.7 313.0 1090.7C315.2 1090.7 318.3 1094.0 320.5 1096.3C322.7 1098.6 323.1 1102.8 326.1 1104.7C329.1 1106.6 336.3 1107.1 338.3 1107.6"/><path d="M275.7 1104.7C276.8 1106.2 279.7 1110.9 282.2 1114.0C284.7 1117.1 288.0 1121.1 290.7 1123.4C293.4 1125.7 296.9 1127.2 298.1 1128.0"/><path d="M313.0 1109.4C313.3 1111.0 314.3 1115.7 314.9 1118.8C315.5 1121.9 316.1 1125.5 316.7 1128.0C317.3 1130.5 318.4 1132.8 318.7 1133.7"/><path d="M316.7 1100.0C317.9 1101.6 321.7 1106.3 324.2 1109.4C326.7 1112.5 329.0 1116.2 331.7 1118.8C334.4 1121.4 338.7 1124.2 340.1 1125.3"/><path d="M321.4 1132.8C322.2 1134.3 324.6 1138.9 326.1 1142.0C327.7 1145.1 328.4 1149.5 330.7 1151.5C333.0 1153.5 338.5 1153.8 340.1 1154.3"/><path d="M274.7 1137.5C275.5 1138.8 277.7 1141.9 279.4 1145.0C281.1 1148.1 284.1 1154.2 285.0 1156.0"/><path d="M304.7 1053.7C306.3 1055.2 311.8 1059.9 314.1 1063.0C316.4 1066.1 317.1 1069.6 318.7 1072.4C320.2 1075.2 321.1 1077.9 323.4 1079.8C325.7 1081.7 329.4 1083.3 332.7 1083.6C336.0 1083.9 339.9 1081.2 343.0 1081.7C346.1 1082.2 348.3 1084.5 351.4 1086.4C354.5 1088.3 358.1 1092.5 361.7 1093.0C365.3 1093.5 371.0 1089.8 372.9 1089.2"/><path d="M318.7 1053.7C319.9 1054.8 323.1 1058.7 326.2 1060.2C329.3 1061.8 333.6 1062.1 337.4 1063.0C341.1 1063.9 345.3 1064.5 348.7 1065.8C352.1 1067.0 354.4 1069.4 358.0 1070.5C361.6 1071.6 368.1 1072.1 370.1 1072.4"/><path d="M309.4 1086.4C309.9 1088.0 310.9 1092.6 312.2 1095.7C313.4 1098.8 314.2 1103.1 316.9 1105.0C319.5 1106.9 324.7 1107.6 328.1 1107.0C331.5 1106.4 334.9 1103.2 337.4 1101.3C339.9 1099.4 340.8 1095.7 343.0 1095.7C345.2 1095.7 348.3 1099.0 350.5 1101.3C352.7 1103.6 353.1 1107.8 356.1 1109.7C359.1 1111.6 366.3 1112.1 368.3 1112.6"/><path d="M305.7 1109.7C306.8 1111.2 309.7 1115.9 312.2 1119.0C314.7 1122.1 318.0 1126.1 320.7 1128.4C323.4 1130.7 326.9 1132.2 328.1 1133.0"/></g></g><path d="M230.8 1055.0C231.0 1052.8 231.8 1051.4 233.0 1050.3C234.2 1049.2 223.5 1048.7 238.0 1048.3C252.5 1047.9 293.7 1047.6 320.0 1047.8C346.3 1048.0 382.4 1048.6 396.0 1049.2C409.6 1049.8 400.2 1050.2 401.3 1051.3C402.4 1052.4 402.7 1054.1 402.6 1056.0C402.5 1057.9 401.7 1059.0 400.5 1062.5C399.3 1066.0 396.8 1071.7 395.4 1077.2C394.0 1082.8 392.6 1089.9 392.0 1095.8C391.4 1101.7 391.4 1107.1 391.7 1112.7C392.0 1118.3 392.9 1124.2 393.7 1129.6C394.5 1134.9 395.7 1140.0 396.3 1144.8C396.9 1149.6 396.9 1154.4 397.5 1158.3C398.1 1162.2 398.6 1164.2 400.0 1168.4C401.4 1172.6 403.8 1178.3 405.6 1183.7C407.4 1189.1 409.2 1194.1 410.6 1200.6C412.0 1207.1 413.2 1215.5 414.0 1222.5C414.8 1229.5 415.2 1236.7 415.4 1242.8C415.6 1248.9 415.7 1255.2 415.2 1259.0C414.7 1262.8 414.5 1263.9 412.3 1265.4C410.1 1266.9 417.6 1267.6 402.2 1268.2C386.8 1268.8 348.4 1268.9 320.0 1269.0C291.6 1269.1 248.3 1269.2 231.6 1268.6C214.9 1268.0 222.1 1267.0 219.6 1265.6C217.1 1264.2 217.0 1264.1 216.3 1260.3C215.6 1256.5 215.6 1249.2 215.6 1243.0C215.6 1236.8 215.9 1229.7 216.3 1223.0C216.8 1216.3 217.3 1208.6 218.3 1203.1C219.3 1197.6 220.6 1194.2 222.3 1189.8C224.0 1185.4 226.6 1181.1 228.3 1176.5C230.0 1171.9 231.9 1166.4 232.6 1162.0C233.3 1157.6 232.2 1155.3 232.5 1150.0C232.8 1144.7 233.6 1136.7 234.3 1130.0C235.0 1123.3 236.4 1115.8 236.9 1110.0C237.4 1104.2 237.8 1099.8 237.5 1095.0C237.2 1090.2 235.8 1085.2 235.0 1081.5C234.2 1077.8 233.0 1075.6 232.5 1072.6C232.0 1069.6 232.1 1066.6 231.8 1063.7C231.5 1060.8 230.6 1057.2 230.8 1055.0Z" fill="none" stroke="#7a3a2e" stroke-width="0.7" opacity="0.5"/></g>
<g transform="translate(0 0)"><g clip-path="url(#c2)"><rect x="460.0" y="1030.0" width="210.0" height="250.0" fill="#ba7460" opacity="1"/><g filter="url(#b10)"><ellipse cx="565.5" cy="1097.0" rx="72.0" ry="28.0" fill="#c3836a" opacity="1"/><rect x="460.0" y="1122.0" width="210.0" height="28.0" fill="#a75e4b" opacity="1"/><ellipse cx="565.5" cy="1212.0" rx="72.0" ry="42.0" fill="#bb5c47" opacity="1"/><ellipse cx="490.0" cy="1236.0" rx="18.0" ry="30.0" fill="#c28b73" opacity="1"/><ellipse cx="641.0" cy="1236.0" rx="18.0" ry="30.0" fill="#c28b73" opacity="1"/></g><g filter="url(#b3)"><rect x="460.0" y="1135.0" width="210.0" height="27.0" fill="#a75e4b" opacity="0.85"/></g><g filter="url(#b6)"><rect x="460.0" y="1030.0" width="210.0" height="27.0" fill="#a85a47" opacity="0.8"/></g><g filter="url(#b5)"><path d="M518.0 1186.0C524.7 1183.7 549.3 1190.0 565.0 1190.0C580.7 1190.0 605.3 1183.7 612.0 1186.0C618.7 1188.3 609.5 1199.0 605.0 1204.0C600.5 1209.0 591.7 1213.5 585.0 1216.0C578.3 1218.5 571.7 1219.0 565.0 1219.0C558.3 1219.0 551.7 1218.5 545.0 1216.0C538.3 1213.5 529.5 1209.0 525.0 1204.0C520.5 1199.0 511.3 1188.3 518.0 1186.0Z" fill="#a9493b" opacity="0.8"/><ellipse cx="565.5" cy="1258.0" rx="24.0" ry="11.0" fill="#a8443a" opacity="0.8"/></g><g filter="url(#b8)"><ellipse cx="568.0" cy="1122.0" rx="22.0" ry="10.0" fill="#bb5c47" opacity="0.7"/><ellipse cx="505.0" cy="1105.0" rx="18.0" ry="22.0" fill="#7f5a4a" opacity="0.3"/><ellipse cx="627.0" cy="1105.0" rx="18.0" ry="22.0" fill="#7f5a4a" opacity="0.3"/></g><g filter="url(#b6)"><rect x="455.0" y="1062.0" width="31.0" height="110.0" fill="#7f5a4a" opacity="0.55"/><rect x="645.0" y="1062.0" width="35.0" height="110.0" fill="#7f5a4a" opacity="0.55"/></g><g filter="url(#b4)"><rect x="455.0" y="1176.0" width="23.0" height="96.0" fill="#9a3a30" opacity="0.45"/><rect x="653.0" y="1176.0" width="27.0" height="96.0" fill="#9a3a30" opacity="0.45"/></g><g filter="url(#b6)"><ellipse cx="508.0" cy="1061.0" rx="34.0" ry="13.0" fill="#8a3a30" opacity="0.8"/><ellipse cx="623.0" cy="1061.0" rx="34.0" ry="13.0" fill="#8a3a30" opacity="0.8"/></g><g filter="url(#b4)"><ellipse cx="486.0" cy="1062.0" rx="9.0" ry="13.0" fill="#5c0c16" opacity="1"/><ellipse cx="645.0" cy="1062.0" rx="9.0" ry="13.0" fill="#5c0c16" opacity="1"/></g></g><path d="M481.3 1057.0C481.8 1054.8 482.6 1052.2 484.5 1050.5C486.4 1048.8 487.0 1048.0 493.0 1047.0C499.0 1046.0 508.1 1045.2 520.6 1044.6C533.1 1044.0 552.3 1043.5 568.0 1043.6C583.7 1043.7 603.0 1044.5 615.0 1045.3C627.0 1046.1 633.9 1047.3 640.0 1048.3C646.1 1049.3 648.8 1050.1 651.4 1051.3C654.0 1052.5 654.8 1053.7 655.6 1055.5C656.4 1057.3 656.5 1059.6 656.4 1062.0C656.3 1064.4 656.1 1066.7 655.3 1070.0C654.5 1073.3 652.9 1077.4 651.4 1081.6C649.9 1085.8 647.2 1090.1 646.2 1095.3C645.2 1100.5 645.3 1106.5 645.3 1112.6C645.3 1118.6 645.9 1125.6 646.2 1131.6C646.5 1137.6 646.9 1143.1 647.1 1148.8C647.3 1154.5 646.8 1160.8 647.4 1166.0C648.0 1171.2 649.3 1174.9 650.5 1179.8C651.7 1184.7 653.6 1189.3 654.8 1195.3C655.9 1201.3 656.8 1208.2 657.4 1216.0C658.0 1223.8 658.2 1235.0 658.3 1241.9C658.4 1248.8 658.7 1253.6 658.1 1257.2C657.5 1260.8 657.1 1261.9 654.8 1263.4C652.5 1264.9 653.6 1265.5 644.5 1266.2C635.4 1266.9 612.8 1267.4 600.0 1267.8C587.2 1268.2 579.7 1268.6 568.0 1268.6C556.3 1268.6 543.4 1268.4 530.0 1268.0C516.6 1267.6 496.9 1267.2 487.9 1266.2C478.9 1265.2 478.4 1264.3 475.8 1261.7C473.2 1259.1 472.7 1256.7 472.3 1250.5C471.9 1244.3 472.8 1233.0 473.2 1224.7C473.6 1216.4 474.0 1207.4 474.9 1200.5C475.8 1193.6 476.9 1188.5 478.4 1183.3C479.8 1178.1 482.3 1173.5 483.6 1169.5C484.9 1165.5 485.5 1163.1 486.1 1159.1C486.7 1155.1 486.7 1151.0 487.0 1145.3C487.3 1139.6 487.5 1131.6 487.9 1124.7C488.3 1117.8 489.4 1110.3 489.4 1104.0C489.4 1097.7 488.9 1091.9 487.9 1086.7C486.9 1081.5 484.7 1076.7 483.6 1072.9C482.5 1069.1 481.8 1066.7 481.4 1064.0C481.0 1061.3 480.8 1059.2 481.3 1057.0Z" fill="none" stroke="#7a3a2e" stroke-width="0.7" opacity="0.5"/></g>
<g transform="translate(469.3 1)"><g clip-path="url(#c3)"><rect x="200.0" y="1030.0" width="230.0" height="250.0" fill="#a02a2c" opacity="1"/><g filter="url(#b5)"><rect x="200.0" y="1030.0" width="230.0" height="102.0" fill="#b68670" opacity="1"/></g><g filter="url(#b6)"><rect x="200.0" y="1114.0" width="50.0" height="18.0" fill="#ae4c3c" opacity="0.8"/><rect x="381.0" y="1114.0" width="49.0" height="18.0" fill="#ae4c3c" opacity="0.8"/></g><g filter="url(#b7)"><path d="M266.0 1140.0C283.0 1136.7 348.0 1136.7 365.0 1140.0C382.0 1143.3 366.0 1152.5 368.0 1160.0C370.0 1167.5 372.5 1172.5 377.0 1185.0C381.5 1197.5 389.8 1220.0 395.0 1235.0C400.2 1250.0 436.7 1268.3 408.0 1275.0C379.3 1281.7 251.7 1281.7 223.0 1275.0C194.3 1268.3 230.8 1250.0 236.0 1235.0C241.2 1220.0 249.5 1197.5 254.0 1185.0C258.5 1172.5 261.0 1167.5 263.0 1160.0C265.0 1152.5 249.0 1143.3 266.0 1140.0Z" fill="#b8473a" opacity="1"/></g><g filter="url(#b4)"><path d="M270.0 1144.0C285.7 1141.0 345.3 1141.0 361.0 1144.0C376.7 1147.0 362.2 1154.8 364.0 1162.0C365.8 1169.2 368.0 1174.8 372.0 1187.0C376.0 1199.2 383.3 1220.3 388.0 1235.0C392.7 1249.7 426.2 1268.3 400.0 1275.0C373.8 1281.7 257.2 1281.7 231.0 1275.0C204.8 1268.3 238.3 1249.7 243.0 1235.0C247.7 1220.3 255.0 1199.2 259.0 1187.0C263.0 1174.8 265.2 1169.2 267.0 1162.0C268.8 1154.8 254.3 1147.0 270.0 1144.0Z" fill="#c0604a" opacity="1"/></g><g filter="url(#b10)"><ellipse cx="319.5" cy="1232.0" rx="48.0" ry="34.0" fill="#c07e66" opacity="1"/><ellipse cx="315.5" cy="1144.0" rx="44.0" ry="16.0" fill="#bb735b" opacity="0.9"/></g><g filter="url(#b3)"><path d="M205.0 1130.0C213.8 1105.8 247.2 1128.7 258.0 1130.0C268.8 1131.3 266.8 1134.0 270.0 1138.0C273.2 1142.0 276.2 1148.3 277.0 1154.0C277.8 1159.7 277.5 1165.7 275.0 1172.0C272.5 1178.3 266.8 1184.8 262.0 1192.0C257.2 1199.2 251.0 1206.2 246.0 1215.0C241.0 1223.8 236.0 1235.0 232.0 1245.0C228.0 1255.0 226.5 1270.0 222.0 1275.0C217.5 1280.0 207.8 1299.2 205.0 1275.0C202.2 1250.8 196.2 1154.2 205.0 1130.0Z" fill="#981a24" opacity="1"/><path d="M426.0 1130.0C417.2 1105.8 383.8 1128.7 373.0 1130.0C362.2 1131.3 364.2 1134.0 361.0 1138.0C357.8 1142.0 354.8 1148.3 354.0 1154.0C353.2 1159.7 353.5 1165.7 356.0 1172.0C358.5 1178.3 364.2 1184.8 369.0 1192.0C373.8 1199.2 380.0 1206.2 385.0 1215.0C390.0 1223.8 395.0 1235.0 399.0 1245.0C403.0 1255.0 404.5 1270.0 409.0 1275.0C413.5 1280.0 423.2 1299.2 426.0 1275.0C428.8 1250.8 434.8 1154.2 426.0 1130.0Z" fill="#9a1b25" opacity="1"/></g><g filter="url(#b6)"><ellipse cx="244.0" cy="1152.0" rx="30.0" ry="20.0" fill="#840e1d" opacity="1"/><ellipse cx="387.0" cy="1152.0" rx="30.0" ry="20.0" fill="#860f1e" opacity="1"/></g><g filter="url(#b8)"><rect x="200.0" y="1238.0" width="45.0" height="42.0" fill="#a83d35" opacity="0.8"/><rect x="386.0" y="1238.0" width="44.0" height="42.0" fill="#a83d35" opacity="0.8"/></g><g filter="url(#b4)"><rect x="200.0" y="1040.0" width="41.0" height="82.0" fill="#8f4a3a" opacity="0.5"/><rect x="390.0" y="1040.0" width="40.0" height="82.0" fill="#8f4a3a" opacity="0.5"/></g><g filter="url(#b3)"><ellipse cx="317.5" cy="1267.0" rx="8.0" ry="5.0" fill="#9a2426" opacity="1"/></g><g filter="url(#bl)" fill="none" stroke="#7e4a3c" stroke-width="1.5" opacity="0.24" stroke-linecap="round"><path d="M274.7 1048.7C276.3 1050.2 281.8 1054.9 284.1 1058.0C286.4 1061.1 287.1 1064.6 288.7 1067.4C290.2 1070.2 291.1 1072.9 293.4 1074.8C295.7 1076.7 299.4 1078.3 302.7 1078.6C306.0 1078.9 309.9 1076.2 313.0 1076.7C316.1 1077.2 318.3 1079.5 321.4 1081.4C324.5 1083.3 328.1 1087.5 331.7 1088.0C335.3 1088.5 341.0 1084.8 342.9 1084.2"/><path d="M288.7 1048.7C289.9 1049.8 293.1 1053.7 296.2 1055.2C299.3 1056.8 303.6 1057.1 307.4 1058.0C311.1 1058.9 315.3 1059.5 318.7 1060.8C322.1 1062.0 324.4 1064.4 328.0 1065.5C331.6 1066.6 338.1 1067.1 340.1 1067.4"/><path d="M279.4 1081.4C279.9 1083.0 280.9 1087.6 282.2 1090.7C283.4 1093.8 284.2 1098.1 286.9 1100.0C289.5 1101.9 294.7 1102.6 298.1 1102.0C301.5 1101.4 304.9 1098.2 307.4 1096.3C309.9 1094.4 310.8 1090.7 313.0 1090.7C315.2 1090.7 318.3 1094.0 320.5 1096.3C322.7 1098.6 323.1 1102.8 326.1 1104.7C329.1 1106.6 336.3 1107.1 338.3 1107.6"/><path d="M275.7 1104.7C276.8 1106.2 279.7 1110.9 282.2 1114.0C284.7 1117.1 288.0 1121.1 290.7 1123.4C293.4 1125.7 296.9 1127.2 298.1 1128.0"/><path d="M313.0 1109.4C313.3 1111.0 314.3 1115.7 314.9 1118.8C315.5 1121.9 316.1 1125.5 316.7 1128.0C317.3 1130.5 318.4 1132.8 318.7 1133.7"/><path d="M316.7 1100.0C317.9 1101.6 321.7 1106.3 324.2 1109.4C326.7 1112.5 329.0 1116.2 331.7 1118.8C334.4 1121.4 338.7 1124.2 340.1 1125.3"/><path d="M321.4 1132.8C322.2 1134.3 324.6 1138.9 326.1 1142.0C327.7 1145.1 328.4 1149.5 330.7 1151.5C333.0 1153.5 338.5 1153.8 340.1 1154.3"/><path d="M274.7 1137.5C275.5 1138.8 277.7 1141.9 279.4 1145.0C281.1 1148.1 284.1 1154.2 285.0 1156.0"/><path d="M304.7 1053.7C306.3 1055.2 311.8 1059.9 314.1 1063.0C316.4 1066.1 317.1 1069.6 318.7 1072.4C320.2 1075.2 321.1 1077.9 323.4 1079.8C325.7 1081.7 329.4 1083.3 332.7 1083.6C336.0 1083.9 339.9 1081.2 343.0 1081.7C346.1 1082.2 348.3 1084.5 351.4 1086.4C354.5 1088.3 358.1 1092.5 361.7 1093.0C365.3 1093.5 371.0 1089.8 372.9 1089.2"/><path d="M318.7 1053.7C319.9 1054.8 323.1 1058.7 326.2 1060.2C329.3 1061.8 333.6 1062.1 337.4 1063.0C341.1 1063.9 345.3 1064.5 348.7 1065.8C352.1 1067.0 354.4 1069.4 358.0 1070.5C361.6 1071.6 368.1 1072.1 370.1 1072.4"/><path d="M309.4 1086.4C309.9 1088.0 310.9 1092.6 312.2 1095.7C313.4 1098.8 314.2 1103.1 316.9 1105.0C319.5 1106.9 324.7 1107.6 328.1 1107.0C331.5 1106.4 334.9 1103.2 337.4 1101.3C339.9 1099.4 340.8 1095.7 343.0 1095.7C345.2 1095.7 348.3 1099.0 350.5 1101.3C352.7 1103.6 353.1 1107.8 356.1 1109.7C359.1 1111.6 366.3 1112.1 368.3 1112.6"/><path d="M305.7 1109.7C306.8 1111.2 309.7 1115.9 312.2 1119.0C314.7 1122.1 318.0 1126.1 320.7 1128.4C323.4 1130.7 326.9 1132.2 328.1 1133.0"/></g></g><path d="M230.8 1055.0C231.0 1052.8 231.8 1051.4 233.0 1050.3C234.2 1049.2 223.5 1048.7 238.0 1048.3C252.5 1047.9 293.7 1047.6 320.0 1047.8C346.3 1048.0 382.4 1048.6 396.0 1049.2C409.6 1049.8 400.2 1050.2 401.3 1051.3C402.4 1052.4 402.7 1054.1 402.6 1056.0C402.5 1057.9 401.7 1059.0 400.5 1062.5C399.3 1066.0 396.8 1071.7 395.4 1077.2C394.0 1082.8 392.6 1089.9 392.0 1095.8C391.4 1101.7 391.4 1107.1 391.7 1112.7C392.0 1118.3 392.9 1124.2 393.7 1129.6C394.5 1134.9 395.7 1140.0 396.3 1144.8C396.9 1149.6 396.9 1154.4 397.5 1158.3C398.1 1162.2 398.6 1164.2 400.0 1168.4C401.4 1172.6 403.8 1178.3 405.6 1183.7C407.4 1189.1 409.2 1194.1 410.6 1200.6C412.0 1207.1 413.2 1215.5 414.0 1222.5C414.8 1229.5 415.2 1236.7 415.4 1242.8C415.6 1248.9 415.7 1255.2 415.2 1259.0C414.7 1262.8 414.5 1263.9 412.3 1265.4C410.1 1266.9 417.6 1267.6 402.2 1268.2C386.8 1268.8 348.4 1268.9 320.0 1269.0C291.6 1269.1 248.3 1269.2 231.6 1268.6C214.9 1268.0 222.1 1267.0 219.6 1265.6C217.1 1264.2 217.0 1264.1 216.3 1260.3C215.6 1256.5 215.6 1249.2 215.6 1243.0C215.6 1236.8 215.9 1229.7 216.3 1223.0C216.8 1216.3 217.3 1208.6 218.3 1203.1C219.3 1197.6 220.6 1194.2 222.3 1189.8C224.0 1185.4 226.6 1181.1 228.3 1176.5C230.0 1171.9 231.9 1166.4 232.6 1162.0C233.3 1157.6 232.2 1155.3 232.5 1150.0C232.8 1144.7 233.6 1136.7 234.3 1130.0C235.0 1123.3 236.4 1115.8 236.9 1110.0C237.4 1104.2 237.8 1099.8 237.5 1095.0C237.2 1090.2 235.8 1085.2 235.0 1081.5C234.2 1077.8 233.0 1075.6 232.5 1072.6C232.0 1069.6 232.1 1066.6 231.8 1063.7C231.5 1060.8 230.6 1057.2 230.8 1055.0Z" fill="none" stroke="#7a3a2e" stroke-width="0.7" opacity="0.5"/></g>
<g transform="translate(462 0)"><g clip-path="url(#c4)"><rect x="460.0" y="1030.0" width="210.0" height="250.0" fill="#b8806a" opacity="1"/><g filter="url(#b10)"><ellipse cx="565.5" cy="1097.0" rx="72.0" ry="28.0" fill="#c2917a" opacity="1"/><rect x="460.0" y="1122.0" width="210.0" height="28.0" fill="#aa7060" opacity="1"/><ellipse cx="565.5" cy="1212.0" rx="72.0" ry="42.0" fill="#bf735d" opacity="1"/><ellipse cx="490.0" cy="1236.0" rx="18.0" ry="30.0" fill="#c09a84" opacity="1"/><ellipse cx="641.0" cy="1236.0" rx="18.0" ry="30.0" fill="#c09a84" opacity="1"/></g><g filter="url(#b3)"><rect x="460.0" y="1135.0" width="210.0" height="27.0" fill="#aa7060" opacity="0.85"/></g><g filter="url(#b6)"><rect x="460.0" y="1030.0" width="210.0" height="27.0" fill="#b26c58" opacity="0.8"/></g><g filter="url(#b5)"><path d="M518.0 1186.0C524.7 1183.7 549.3 1190.0 565.0 1190.0C580.7 1190.0 605.3 1183.7 612.0 1186.0C618.7 1188.3 609.5 1199.0 605.0 1204.0C600.5 1209.0 591.7 1213.5 585.0 1216.0C578.3 1218.5 571.7 1219.0 565.0 1219.0C558.3 1219.0 551.7 1218.5 545.0 1216.0C538.3 1213.5 529.5 1209.0 525.0 1204.0C520.5 1199.0 511.3 1188.3 518.0 1186.0Z" fill="#ae5e4e" opacity="0.75"/><ellipse cx="565.5" cy="1258.0" rx="24.0" ry="11.0" fill="#ad5646" opacity="0.8"/></g><g filter="url(#b8)"><ellipse cx="568.0" cy="1122.0" rx="22.0" ry="10.0" fill="#bf735d" opacity="0.7"/><ellipse cx="505.0" cy="1105.0" rx="18.0" ry="22.0" fill="#856555" opacity="0.3"/><ellipse cx="627.0" cy="1105.0" rx="18.0" ry="22.0" fill="#856555" opacity="0.3"/></g><g filter="url(#b6)"><rect x="455.0" y="1062.0" width="31.0" height="110.0" fill="#856555" opacity="0.55"/><rect x="645.0" y="1062.0" width="35.0" height="110.0" fill="#856555" opacity="0.55"/></g><g filter="url(#b4)"><rect x="455.0" y="1176.0" width="23.0" height="96.0" fill="#9a3a30" opacity="0.45"/><rect x="653.0" y="1176.0" width="27.0" height="96.0" fill="#9a3a30" opacity="0.45"/></g><g filter="url(#b7)"><ellipse cx="498.0" cy="1062.0" rx="28.0" ry="20.0" fill="#952e2a" opacity="0.85"/><ellipse cx="633.0" cy="1062.0" rx="28.0" ry="20.0" fill="#952e2a" opacity="0.85"/></g><g filter="url(#b4)"><path d="M474.0 1046.0C483.3 1037.0 522.3 1040.7 530.0 1043.0C537.7 1045.3 525.0 1053.8 520.0 1060.0C515.0 1066.2 505.3 1073.8 500.0 1080.0C494.7 1086.2 492.3 1094.2 488.0 1097.0C483.7 1099.8 476.3 1105.5 474.0 1097.0C471.7 1088.5 464.7 1055.0 474.0 1046.0Z" fill="#6e0c18" opacity="1"/><path d="M657.0 1046.0C647.7 1037.0 608.7 1040.7 601.0 1043.0C593.3 1045.3 606.0 1053.8 611.0 1060.0C616.0 1066.2 625.7 1073.8 631.0 1080.0C636.3 1086.2 638.7 1094.2 643.0 1097.0C647.3 1099.8 654.7 1105.5 657.0 1097.0C659.3 1088.5 666.3 1055.0 657.0 1046.0Z" fill="#6e0c18" opacity="1"/></g></g><path d="M481.3 1057.0C481.8 1054.8 482.6 1052.2 484.5 1050.5C486.4 1048.8 487.0 1048.0 493.0 1047.0C499.0 1046.0 508.1 1045.2 520.6 1044.6C533.1 1044.0 552.3 1043.5 568.0 1043.6C583.7 1043.7 603.0 1044.5 615.0 1045.3C627.0 1046.1 633.9 1047.3 640.0 1048.3C646.1 1049.3 648.8 1050.1 651.4 1051.3C654.0 1052.5 654.8 1053.7 655.6 1055.5C656.4 1057.3 656.5 1059.6 656.4 1062.0C656.3 1064.4 656.1 1066.7 655.3 1070.0C654.5 1073.3 652.9 1077.4 651.4 1081.6C649.9 1085.8 647.2 1090.1 646.2 1095.3C645.2 1100.5 645.3 1106.5 645.3 1112.6C645.3 1118.6 645.9 1125.6 646.2 1131.6C646.5 1137.6 646.9 1143.1 647.1 1148.8C647.3 1154.5 646.8 1160.8 647.4 1166.0C648.0 1171.2 649.3 1174.9 650.5 1179.8C651.7 1184.7 653.6 1189.3 654.8 1195.3C655.9 1201.3 656.8 1208.2 657.4 1216.0C658.0 1223.8 658.2 1235.0 658.3 1241.9C658.4 1248.8 658.7 1253.6 658.1 1257.2C657.5 1260.8 657.1 1261.9 654.8 1263.4C652.5 1264.9 653.6 1265.5 644.5 1266.2C635.4 1266.9 612.8 1267.4 600.0 1267.8C587.2 1268.2 579.7 1268.6 568.0 1268.6C556.3 1268.6 543.4 1268.4 530.0 1268.0C516.6 1267.6 496.9 1267.2 487.9 1266.2C478.9 1265.2 478.4 1264.3 475.8 1261.7C473.2 1259.1 472.7 1256.7 472.3 1250.5C471.9 1244.3 472.8 1233.0 473.2 1224.7C473.6 1216.4 474.0 1207.4 474.9 1200.5C475.8 1193.6 476.9 1188.5 478.4 1183.3C479.8 1178.1 482.3 1173.5 483.6 1169.5C484.9 1165.5 485.5 1163.1 486.1 1159.1C486.7 1155.1 486.7 1151.0 487.0 1145.3C487.3 1139.6 487.5 1131.6 487.9 1124.7C488.3 1117.8 489.4 1110.3 489.4 1104.0C489.4 1097.7 488.9 1091.9 487.9 1086.7C486.9 1081.5 484.7 1076.7 483.6 1072.9C482.5 1069.1 481.8 1066.7 481.4 1064.0C481.0 1061.3 480.8 1059.2 481.3 1057.0Z" fill="none" stroke="#7a3a2e" stroke-width="0.7" opacity="0.5"/></g>
<g transform="translate(932 1.5)"><g clip-path="url(#c5)"><rect x="200.0" y="1030.0" width="230.0" height="250.0" fill="#a02a2c" opacity="1"/><g filter="url(#b5)"><rect x="200.0" y="1030.0" width="230.0" height="129.0" fill="#ba917b" opacity="1"/></g><g filter="url(#b9)"><ellipse cx="236.0" cy="1147.0" rx="34.0" ry="17.0" fill="#b0503f" opacity="1"/><ellipse cx="395.0" cy="1147.0" rx="34.0" ry="17.0" fill="#b0503f" opacity="1"/></g><g filter="url(#b7)"><path d="M266.0 1167.0C283.0 1163.7 348.0 1163.7 365.0 1167.0C382.0 1170.3 366.0 1179.5 368.0 1187.0C370.0 1194.5 372.5 1204.0 377.0 1212.0C381.5 1220.0 389.8 1224.5 395.0 1235.0C400.2 1245.5 436.7 1268.3 408.0 1275.0C379.3 1281.7 251.7 1281.7 223.0 1275.0C194.3 1268.3 230.8 1245.5 236.0 1235.0C241.2 1224.5 249.5 1220.0 254.0 1212.0C258.5 1204.0 261.0 1194.5 263.0 1187.0C265.0 1179.5 249.0 1170.3 266.0 1167.0Z" fill="#b8473a" opacity="1"/></g><g filter="url(#b4)"><path d="M270.0 1171.0C285.7 1168.0 345.3 1168.0 361.0 1171.0C376.7 1174.0 362.2 1181.8 364.0 1189.0C365.8 1196.2 368.0 1206.3 372.0 1214.0C376.0 1221.7 383.3 1224.8 388.0 1235.0C392.7 1245.2 426.2 1268.3 400.0 1275.0C373.8 1281.7 257.2 1281.7 231.0 1275.0C204.8 1268.3 238.3 1245.2 243.0 1235.0C247.7 1224.8 255.0 1221.7 259.0 1214.0C263.0 1206.3 265.2 1196.2 267.0 1189.0C268.8 1181.8 254.3 1174.0 270.0 1171.0Z" fill="#c0604a" opacity="1"/></g><g filter="url(#b10)"><ellipse cx="319.5" cy="1232.0" rx="48.0" ry="34.0" fill="#c07e66" opacity="1"/><ellipse cx="315.5" cy="1171.0" rx="44.0" ry="16.0" fill="#bb735b" opacity="0.9"/></g><g filter="url(#b3)"><path d="M205.0 1157.0C213.8 1137.3 247.2 1155.7 258.0 1157.0C268.8 1158.3 266.8 1161.0 270.0 1165.0C273.2 1169.0 276.2 1175.3 277.0 1181.0C277.8 1186.7 277.5 1192.7 275.0 1199.0C272.5 1205.3 266.8 1211.8 262.0 1219.0C257.2 1226.2 251.0 1233.2 246.0 1242.0C241.0 1250.8 236.0 1266.5 232.0 1272.0C228.0 1277.5 226.5 1274.5 222.0 1275.0C217.5 1275.5 207.8 1294.7 205.0 1275.0C202.2 1255.3 196.2 1176.7 205.0 1157.0Z" fill="#981a24" opacity="1"/><path d="M426.0 1157.0C417.2 1137.3 383.8 1155.7 373.0 1157.0C362.2 1158.3 364.2 1161.0 361.0 1165.0C357.8 1169.0 354.8 1175.3 354.0 1181.0C353.2 1186.7 353.5 1192.7 356.0 1199.0C358.5 1205.3 364.2 1211.8 369.0 1219.0C373.8 1226.2 380.0 1233.2 385.0 1242.0C390.0 1250.8 395.0 1266.5 399.0 1272.0C403.0 1277.5 404.5 1274.5 409.0 1275.0C413.5 1275.5 423.2 1294.7 426.0 1275.0C428.8 1255.3 434.8 1176.7 426.0 1157.0Z" fill="#9a1b25" opacity="1"/></g><g filter="url(#b6)"><ellipse cx="244.0" cy="1179.0" rx="30.0" ry="20.0" fill="#840e1d" opacity="1"/><ellipse cx="387.0" cy="1179.0" rx="30.0" ry="20.0" fill="#860f1e" opacity="1"/></g><g filter="url(#b8)"><rect x="200.0" y="1238.0" width="45.0" height="42.0" fill="#a83d35" opacity="0.8"/><rect x="386.0" y="1238.0" width="44.0" height="42.0" fill="#a83d35" opacity="0.8"/></g><g filter="url(#b4)"><rect x="200.0" y="1040.0" width="41.0" height="109.0" fill="#8f4a3a" opacity="0.5"/><rect x="390.0" y="1040.0" width="40.0" height="109.0" fill="#8f4a3a" opacity="0.5"/></g><g filter="url(#b3)"><ellipse cx="317.5" cy="1267.0" rx="8.0" ry="5.0" fill="#9a2426" opacity="1"/></g><g filter="url(#bl)" fill="none" stroke="#7e4a3c" stroke-width="1.5" opacity="0.24" stroke-linecap="round"><path d="M274.7 1048.7C276.3 1050.2 281.8 1054.9 284.1 1058.0C286.4 1061.1 287.1 1064.6 288.7 1067.4C290.2 1070.2 291.1 1072.9 293.4 1074.8C295.7 1076.7 299.4 1078.3 302.7 1078.6C306.0 1078.9 309.9 1076.2 313.0 1076.7C316.1 1077.2 318.3 1079.5 321.4 1081.4C324.5 1083.3 328.1 1087.5 331.7 1088.0C335.3 1088.5 341.0 1084.8 342.9 1084.2"/><path d="M288.7 1048.7C289.9 1049.8 293.1 1053.7 296.2 1055.2C299.3 1056.8 303.6 1057.1 307.4 1058.0C311.1 1058.9 315.3 1059.5 318.7 1060.8C322.1 1062.0 324.4 1064.4 328.0 1065.5C331.6 1066.6 338.1 1067.1 340.1 1067.4"/><path d="M279.4 1081.4C279.9 1083.0 280.9 1087.6 282.2 1090.7C283.4 1093.8 284.2 1098.1 286.9 1100.0C289.5 1101.9 294.7 1102.6 298.1 1102.0C301.5 1101.4 304.9 1098.2 307.4 1096.3C309.9 1094.4 310.8 1090.7 313.0 1090.7C315.2 1090.7 318.3 1094.0 320.5 1096.3C322.7 1098.6 323.1 1102.8 326.1 1104.7C329.1 1106.6 336.3 1107.1 338.3 1107.6"/><path d="M275.7 1104.7C276.8 1106.2 279.7 1110.9 282.2 1114.0C284.7 1117.1 288.0 1121.1 290.7 1123.4C293.4 1125.7 296.9 1127.2 298.1 1128.0"/><path d="M313.0 1109.4C313.3 1111.0 314.3 1115.7 314.9 1118.8C315.5 1121.9 316.1 1125.5 316.7 1128.0C317.3 1130.5 318.4 1132.8 318.7 1133.7"/><path d="M316.7 1100.0C317.9 1101.6 321.7 1106.3 324.2 1109.4C326.7 1112.5 329.0 1116.2 331.7 1118.8C334.4 1121.4 338.7 1124.2 340.1 1125.3"/><path d="M321.4 1132.8C322.2 1134.3 324.6 1138.9 326.1 1142.0C327.7 1145.1 328.4 1149.5 330.7 1151.5C333.0 1153.5 338.5 1153.8 340.1 1154.3"/><path d="M274.7 1137.5C275.5 1138.8 277.7 1141.9 279.4 1145.0C281.1 1148.1 284.1 1154.2 285.0 1156.0"/><path d="M304.7 1053.7C306.3 1055.2 311.8 1059.9 314.1 1063.0C316.4 1066.1 317.1 1069.6 318.7 1072.4C320.2 1075.2 321.1 1077.9 323.4 1079.8C325.7 1081.7 329.4 1083.3 332.7 1083.6C336.0 1083.9 339.9 1081.2 343.0 1081.7C346.1 1082.2 348.3 1084.5 351.4 1086.4C354.5 1088.3 358.1 1092.5 361.7 1093.0C365.3 1093.5 371.0 1089.8 372.9 1089.2"/><path d="M318.7 1053.7C319.9 1054.8 323.1 1058.7 326.2 1060.2C329.3 1061.8 333.6 1062.1 337.4 1063.0C341.1 1063.9 345.3 1064.5 348.7 1065.8C352.1 1067.0 354.4 1069.4 358.0 1070.5C361.6 1071.6 368.1 1072.1 370.1 1072.4"/><path d="M309.4 1086.4C309.9 1088.0 310.9 1092.6 312.2 1095.7C313.4 1098.8 314.2 1103.1 316.9 1105.0C319.5 1106.9 324.7 1107.6 328.1 1107.0C331.5 1106.4 334.9 1103.2 337.4 1101.3C339.9 1099.4 340.8 1095.7 343.0 1095.7C345.2 1095.7 348.3 1099.0 350.5 1101.3C352.7 1103.6 353.1 1107.8 356.1 1109.7C359.1 1111.6 366.3 1112.1 368.3 1112.6"/><path d="M305.7 1109.7C306.8 1111.2 309.7 1115.9 312.2 1119.0C314.7 1122.1 318.0 1126.1 320.7 1128.4C323.4 1130.7 326.9 1132.2 328.1 1133.0"/></g></g><path d="M230.8 1055.0C231.0 1052.8 231.8 1051.4 233.0 1050.3C234.2 1049.2 223.5 1048.7 238.0 1048.3C252.5 1047.9 293.7 1047.6 320.0 1047.8C346.3 1048.0 382.4 1048.6 396.0 1049.2C409.6 1049.8 400.2 1050.2 401.3 1051.3C402.4 1052.4 402.7 1054.1 402.6 1056.0C402.5 1057.9 401.7 1059.0 400.5 1062.5C399.3 1066.0 396.8 1071.7 395.4 1077.2C394.0 1082.8 392.6 1089.9 392.0 1095.8C391.4 1101.7 391.4 1107.1 391.7 1112.7C392.0 1118.3 392.9 1124.2 393.7 1129.6C394.5 1134.9 395.7 1140.0 396.3 1144.8C396.9 1149.6 396.9 1154.4 397.5 1158.3C398.1 1162.2 398.6 1164.2 400.0 1168.4C401.4 1172.6 403.8 1178.3 405.6 1183.7C407.4 1189.1 409.2 1194.1 410.6 1200.6C412.0 1207.1 413.2 1215.5 414.0 1222.5C414.8 1229.5 415.2 1236.7 415.4 1242.8C415.6 1248.9 415.7 1255.2 415.2 1259.0C414.7 1262.8 414.5 1263.9 412.3 1265.4C410.1 1266.9 417.6 1267.6 402.2 1268.2C386.8 1268.8 348.4 1268.9 320.0 1269.0C291.6 1269.1 248.3 1269.2 231.6 1268.6C214.9 1268.0 222.1 1267.0 219.6 1265.6C217.1 1264.2 217.0 1264.1 216.3 1260.3C215.6 1256.5 215.6 1249.2 215.6 1243.0C215.6 1236.8 215.9 1229.7 216.3 1223.0C216.8 1216.3 217.3 1208.6 218.3 1203.1C219.3 1197.6 220.6 1194.2 222.3 1189.8C224.0 1185.4 226.6 1181.1 228.3 1176.5C230.0 1171.9 231.9 1166.4 232.6 1162.0C233.3 1157.6 232.2 1155.3 232.5 1150.0C232.8 1144.7 233.6 1136.7 234.3 1130.0C235.0 1123.3 236.4 1115.8 236.9 1110.0C237.4 1104.2 237.8 1099.8 237.5 1095.0C237.2 1090.2 235.8 1085.2 235.0 1081.5C234.2 1077.8 233.0 1075.6 232.5 1072.6C232.0 1069.6 232.1 1066.6 231.8 1063.7C231.5 1060.8 230.6 1057.2 230.8 1055.0Z" fill="none" stroke="#7a3a2e" stroke-width="0.7" opacity="0.5"/></g>
<defs><linearGradient id="rl" x1="0" x2="1"><stop offset="0" stop-color="#c89a88" stop-opacity="0"/><stop offset="0.3" stop-color="#c89a88"/><stop offset="0.7" stop-color="#c89a88"/><stop offset="1" stop-color="#c89a88" stop-opacity="0"/></linearGradient></defs><rect x="36" y="1044.6" width="70" height="1.4" fill="url(#rl)"/>
<defs><linearGradient id="cw" x1="0" x2="1" y1="0" y2="0"><stop offset="0" stop-color="rgb(59, 76, 192)"/><stop offset="0.125" stop-color="rgb(98, 130, 234)"/><stop offset="0.25" stop-color="rgb(141, 176, 254)"/><stop offset="0.375" stop-color="rgb(184, 208, 249)"/><stop offset="0.5" stop-color="rgb(221, 221, 221)"/><stop offset="0.625" stop-color="rgb(245, 196, 173)"/><stop offset="0.75" stop-color="rgb(244, 154, 123)"/><stop offset="0.875" stop-color="rgb(222, 96, 77)"/><stop offset="1" stop-color="rgb(180, 4, 38)"/></linearGradient></defs>
<rect x="371.5" y="1287.7" width="572.9" height="20.2" fill="url(#cw)"/>
<line x1="371.8" y1="1302" x2="371.8" y2="1323" stroke="#222" stroke-width="2"/>
<text x="366.9" y="1348" font-size="29" fill="#333" text-anchor="middle">-40</text>
<line x1="514.9" y1="1302" x2="514.9" y2="1323" stroke="#222" stroke-width="2"/>
<text x="514.9" y="1348" font-size="29" fill="#333" text-anchor="middle">-20</text>
<line x1="586.5" y1="1302" x2="586.5" y2="1323" stroke="#222" stroke-width="2"/>
<text x="586.5" y="1348" font-size="29" fill="#333" text-anchor="middle">-10</text>
<line x1="658.0" y1="1302" x2="658.0" y2="1323" stroke="#222" stroke-width="2"/>
<text x="658.0" y="1348" font-size="29" fill="#333" text-anchor="middle">0</text>
<line x1="729.5" y1="1302" x2="729.5" y2="1323" stroke="#222" stroke-width="2"/>
<text x="729.5" y="1348" font-size="29" fill="#333" text-anchor="middle">10</text>
<line x1="801.1" y1="1302" x2="801.1" y2="1323" stroke="#222" stroke-width="2"/>
<text x="801.1" y="1348" font-size="29" fill="#333" text-anchor="middle">20</text>
<line x1="872.6" y1="1302" x2="872.6" y2="1323" stroke="#222" stroke-width="2"/>
<text x="872.6" y="1348" font-size="29" fill="#333" text-anchor="middle">30</text>
<line x1="944.2" y1="1302" x2="944.2" y2="1323" stroke="#222" stroke-width="2"/>
<text x="946.2" y="1348" font-size="29" fill="#333" text-anchor="middle">40</text>
<text x="656.5" y="1383.1" font-size="27" font-weight="bold" fill="#111" text-anchor="middle">Thickness (mm)</text>
</svg>
</body></html>
